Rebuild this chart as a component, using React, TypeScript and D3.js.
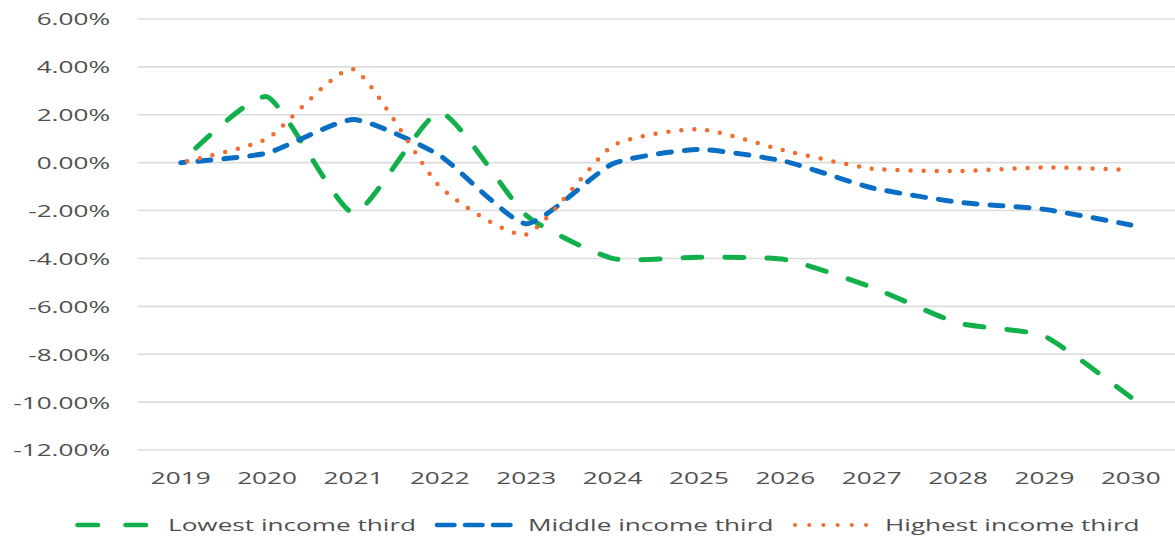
import React, { useEffect, useRef, useState } from "react";
import * as d3 from "d3";

// Projected change by income group, 2019–2030 (percent)
const years = ["2019", "2020", "2021", "2022", "2023", "2024", "2025", "2026", "2027", "2028", "2029", "2030"];
const lowestThird = [0, 2.75, -2.1, 2.1, -2.2, -4.0, -3.95, -4.05, -5.2, -6.7, -7.25, -9.8];
const middleThird = [0, 0.4, 1.8, 0.3, -2.55, -0.05, 0.55, 0.05, -1.05, -1.65, -1.95, -2.6];
const highestThird = [0, 1.0, 3.9, -1.0, -3.0, 0.7, 1.4, 0.5, -0.25, -0.35, -0.2, -0.3];
const yTicks = [6, 4, 2, 0, -2, -4, -6, -8, -10, -12];
const seriesNames = ["Lowest income third", "Middle income third", "Highest income third"];

const W = 1175;
const H = 538;
const FONT = "'Open Sans', 'DejaVu Sans', sans-serif";
const TEXT_COLOR = "#505050";
const SX = 1.585; // horizontal stretch of the lettering

const x = d3.scalePoint<string>().domain(years).range([137.5, 1174]).padding(0.5);
const y = d3.scaleLinear().domain([-12, 6]).range([450, 19]);

const styles = [
  { color: "#12b04a", dash: [19, 23], width: 5, legendDash: "20.5 27.5" },
  { color: "#0a6fc4", dash: [13, 13], width: 5, legendDash: "17.5 10.5" },
  { color: "#f06d2f", dash: [0, 13], width: 4.5, legendDash: "0 14.2" },
];

const allSeries = [lowestThird, middleThird, highestThird];

const line = d3
  .line<number>()
  .x((_, i) => x(years[i]) as number)
  .y((v) => y(v))
  .curve(d3.curveCardinal.tension(0.45));

function StretchText({
  x0,
  y0,
  anchor,
  children,
}: {
  x0: number;
  y0: number;
  anchor: string;
  children: React.ReactNode;
}) {
  return (
    <g transform={`translate(${x0},${y0}) scale(${SX},1)`}>
      <text
        x={0}
        y={0}
        textAnchor={anchor}
        dominantBaseline="central"
        fontFamily={FONT}
        fontSize={16.5}
        fill={TEXT_COLOR}
      >
        {children}
      </text>
    </g>
  );
}

const legendItems = [
  { x1: 77.5, x2: 147.5, tx: 168 },
  { x1: 437, x2: 511, tx: 528 },
  { x1: 795, x2: 866, tx: 885 },
];

export default function App() {
  const fmt = (v: number) => `${v.toFixed(2)}%`;
  const pathRefs = useRef<(SVGPathElement | null)[]>([]);
  const [offsets, setOffsets] = useState<number[]>([0, 0, 0]);

  // shift each dash pattern so the series ends on a dash rather than a gap
  useEffect(() => {
    const next = pathRefs.current.map((p, i) => {
      if (!p) return 0;
      const len = p.getTotalLength();
      const [dash, gap] = styles[i].dash;
      const period = dash + gap;
      return dash - 0.5 - (len % period);
    });
    setOffsets(next);
  }, []);

  return (
    <svg
      width={W}
      height={H}
      style={{ position: "absolute", left: 0, top: 0, background: "#fff" }}
    >
      {/* horizontal gridlines */}
      {yTicks.map((t) => (
        <line key={t} x1={137.5} x2={1175} y1={y(t)} y2={y(t)} stroke="#dcdcdc" strokeWidth={1.6} />
      ))}
      {/* y-axis labels */}
      {yTicks.map((t) => (
        <StretchText key={t} x0={110} y0={y(t)} anchor="end">
          {fmt(t)}
        </StretchText>
      ))}
      {/* x-axis labels */}
      {years.map((yr) => (
        <StretchText key={yr} x0={x(yr) as number} y0={478} anchor="middle">
          {yr}
        </StretchText>
      ))}
      {/* series lines */}
      {allSeries.map((vals, i) => (
        <path
          key={seriesNames[i]}
          ref={(el) => {
            pathRefs.current[i] = el;
          }}
          d={line(vals) ?? ""}
          fill="none"
          stroke={styles[i].color}
          strokeWidth={styles[i].width}
          strokeDasharray={styles[i].dash.join(" ")}
          strokeDashoffset={offsets[i]}
          strokeLinecap="round"
          strokeLinejoin="round"
        />
      ))}
      {/* legend */}
      {seriesNames.map((name, i) => (
        <g key={name}>
          <line
            x1={legendItems[i].x1}
            x2={legendItems[i].x2}
            y1={525}
            y2={525}
            stroke={styles[i].color}
            strokeWidth={styles[i].width - 0.5}
            strokeDasharray={styles[i].legendDash}
            strokeLinecap="round"
          />
          <StretchText x0={legendItems[i].tx} y0={525} anchor="start">
            {name}
          </StretchText>
        </g>
      ))}
    </svg>
  );
}
